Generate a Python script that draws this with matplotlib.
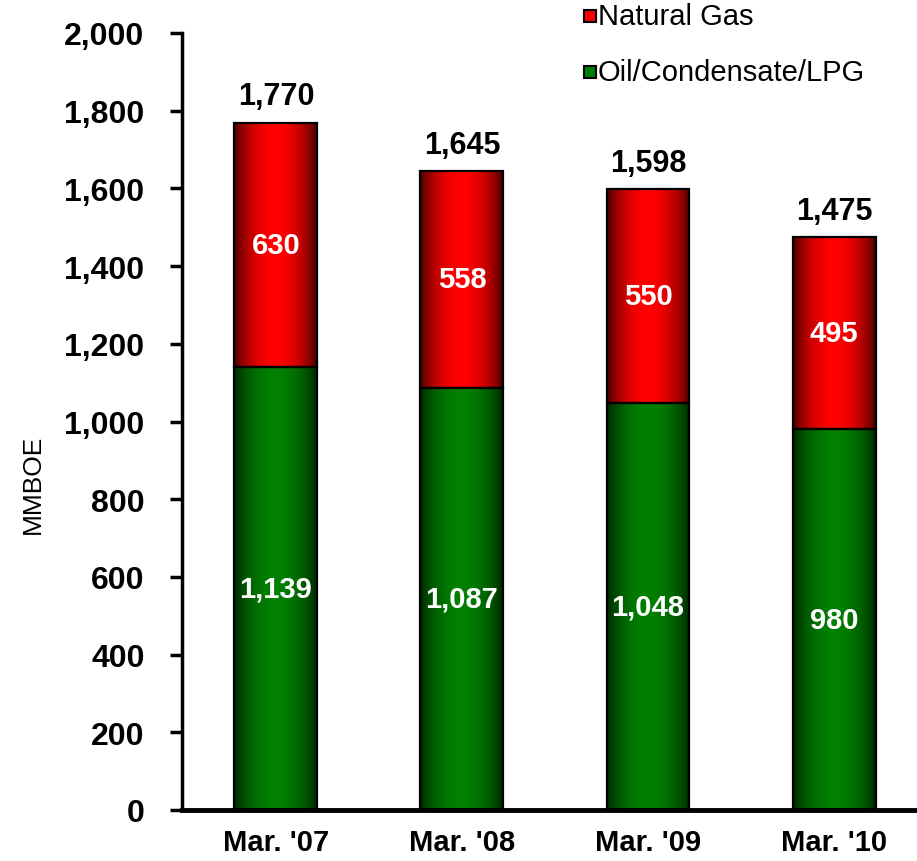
import numpy as np
import matplotlib.pyplot as plt
from matplotlib.colors import LinearSegmentedColormap, to_rgb
from matplotlib.patches import Rectangle

plt.rcParams['font.family'] = ['Liberation Sans', 'DejaVu Sans']

# Reserves by fiscal year end (MMBOE)
periods = ["Mar. '07", "Mar. '08", "Mar. '09", "Mar. '10"]
oil = [1139, 1087, 1048, 980]
gas = [630, 558, 550, 495]
totals = [1770, 1645, 1598, 1475]

bar_width = 0.446


def shaded_cmap(edge, center):
    # dark at both sides, bright in the middle for a cylinder look
    t = np.linspace(0, 1, 64)
    prof = np.sin(np.pi * t) ** 0.7
    e = np.array(to_rgb(edge))
    c = np.array(to_rgb(center))
    cols = [tuple(e + (c - e) * p) for p in prof]
    return LinearSegmentedColormap.from_list('shade', cols)


red_cmap = shaded_cmap('#3a0000', '#ff0000')
green_cmap = shaded_cmap('#002000', '#008000')
grad = np.linspace(0, 1, 256).reshape(1, -1)

fig = plt.figure(figsize=(9.17, 8.62), dpi=100)
ax = fig.add_axes([182 / 917, 1 - 811 / 862, 1 - 182 / 917, (811 - 34) / 862])


def draw_segment(x, bottom, height, cmap):
    x0, x1 = x - bar_width / 2, x + bar_width / 2
    ax.imshow(grad, extent=[x0, x1, bottom, bottom + height], aspect='auto',
              cmap=cmap, zorder=2, interpolation='bilinear')
    ax.add_patch(Rectangle((x0, bottom), bar_width, height, facecolor='none',
                           edgecolor='black', linewidth=1.6, zorder=3))


for i in range(len(periods)):
    draw_segment(i, 0, oil[i], green_cmap)
    draw_segment(i, oil[i], gas[i], red_cmap)
    ax.text(i, oil[i] / 2, f'{oil[i]:,}', ha='center', va='center',
            color='white', fontsize=21, fontweight='bold', zorder=4)
    ax.text(i, oil[i] + gas[i] / 2, f'{gas[i]:,}', ha='center', va='center',
            color='white', fontsize=21, fontweight='bold', zorder=4)
    ax.annotate(f'{totals[i]:,}', (i, totals[i]), xytext=(0, 19),
                textcoords='offset points', ha='center', va='center',
                fontsize=22, fontweight='bold', zorder=4)

ax.set_xlim(-0.505, 3.446)
ax.set_ylim(0, 2000)
ax.set_xticks(range(len(periods)))
ax.set_xticklabels(periods, fontsize=21, fontweight='bold')
ax.set_yticks(range(0, 2001, 200))
ax.set_yticklabels([f'{v:,}' for v in range(0, 2001, 200)], fontsize=23,
                   fontweight='bold')
ax.tick_params(axis='x', length=0, pad=13)
ax.tick_params(axis='y', length=9, width=2.5, pad=18, direction='out')
for side in ['top', 'right']:
    ax.spines[side].set_visible(False)
ax.spines['left'].set_linewidth(2.5)
ax.spines['bottom'].set_linewidth(3.5)
ax.set_ylabel('MMBOE', fontsize=19)
ax.yaxis.set_label_coords(-137 / 735, 0.42)

# legend: small squares with labels, top right
for j, (label, color) in enumerate([('Natural Gas', '#ff0000'),
                                     ('Oil/Condensate/LPG', '#008000')]):
    yc = 1 - (17 + 56 * j) / 862
    fig.patches.append(Rectangle((584 / 917, yc - 6 / 862), 12 / 917, 12 / 862,
                                 transform=fig.transFigure, facecolor=color,
                                 edgecolor='black', linewidth=1.5))
    fig.text(598 / 917, yc, label, fontsize=21, va='center', ha='left')

fig.savefig('out.png', dpi=100)
